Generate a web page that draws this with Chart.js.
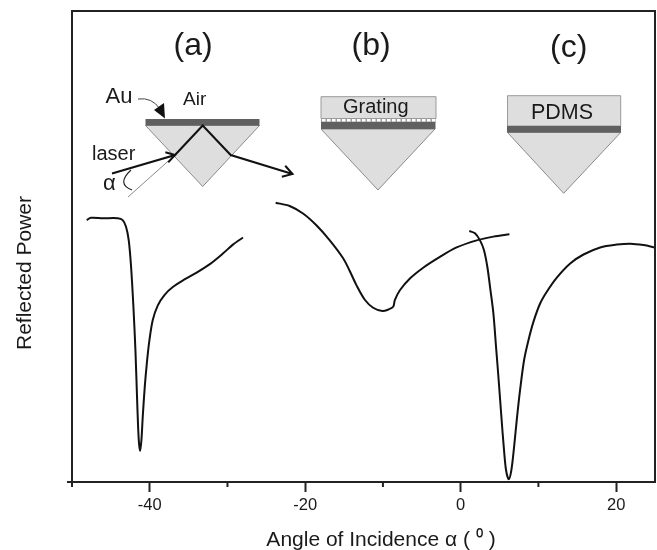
<!DOCTYPE html>
<html>
<head>
<meta charset="utf-8">
<style>
  html, body { margin: 0; padding: 0; background: #fff; }
  #wrap { width: 657px; height: 550px; }
</style>
<script src="https://cdn.jsdelivr.net/npm/chart.js@4"></script>
</head>
<body>
<div id="wrap"><canvas id="chart"></canvas></div>
<script>
const xTicks = [-40, -20, 0, 20];

const curveAx = [-48.11, -47.56, -46.05, -44.12, -43.48, -43.05, -42.70, -42.40, -42.10, -41.84, -41.59, -41.41, -41.24, -41.07, -40.90, -40.64, -40.38, -40.04, -39.61, -38.96, -38.11, -37.03, -35.53, -34.02, -32.31, -30.59, -29.30, -28.01];
const curveAy = [55.6, 56.1, 56.0, 56.0, 55.6, 54.2, 51.3, 45.7, 37.2, 28.0, 15.9, 8.9, 6.6, 8.9, 13.8, 20.2, 25.1, 30.1, 34.4, 37.5, 39.7, 41.4, 43.0, 44.4, 46.2, 48.5, 50.4, 51.9];

const curveBx = [-23.80, -22.00, -20.28, -18.56, -16.84, -15.12, -14.27, -13.41, -12.33, -11.26, -10.06, -9.33, -8.68, -8.47, -7.82, -6.53, -4.82, -2.67, -0.52, 2.06, 4.21, 6.27];
const curveBy = [59.3, 58.6, 57.0, 54.5, 51.3, 47.5, 44.8, 41.8, 38.7, 37.0, 36.3, 36.6, 37.2, 38.6, 40.7, 43.2, 45.5, 47.8, 49.8, 51.3, 52.1, 52.6];

const curveCx = [1.11, 1.84, 2.49, 3.00, 3.43, 3.78, 4.21, 4.55, 4.89, 5.24, 5.58, 5.84, 6.18, 6.52, 6.87, 7.21, 7.64, 8.16, 8.72, 9.36, 10.22, 11.08, 12.37, 14.09, 15.80, 17.95, 20.10, 21.82, 23.53, 25];
const curveCy = [53.3, 52.8, 51.3, 49.2, 45.7, 41.4, 35.8, 28.7, 21.6, 13.8, 6.7, 2.5, 0.6, 2.5, 7.4, 13.1, 19.5, 25.9, 30.1, 34.0, 37.9, 40.4, 43.4, 46.4, 48.3, 49.8, 50.4, 50.6, 50.3, 49.8];

const FONT = "'Liberation Sans', Arial, sans-serif";
const INK = "#1a1a1a";

function toPoints(xs, ys) { return xs.map((x, i) => ({ x, y: ys[i] })); }

function curve(label, xs, ys) {
  return {
    label,
    data: toPoints(xs, ys),
    borderColor: "#111",
    borderWidth: 2,
    pointRadius: 0,
    tension: 0.3,
    fill: false
  };
}

// marco superior/derecho y marcas menores, que Chart.js no hace solo
const framePlugin = {
  id: "frame",
  afterDraw(chart) {
    const { ctx, chartArea: a, scales } = chart;
    ctx.save();
    ctx.strokeStyle = "#222";
    ctx.lineWidth = 2;
    ctx.beginPath();
    ctx.moveTo(a.left, a.bottom); ctx.lineTo(a.left, a.top);
    ctx.lineTo(a.right, a.top); ctx.lineTo(a.right, a.bottom);
    ctx.stroke();
    [-50, -30, -10, 10].forEach(v => {
      const px = scales.x.getPixelForValue(v);
      ctx.beginPath(); ctx.moveTo(px, a.bottom); ctx.lineTo(px, a.bottom + 5); ctx.stroke();
    });
    ctx.beginPath(); ctx.moveTo(a.left - 5, a.bottom); ctx.lineTo(a.left, a.bottom); ctx.stroke();
    ctx.restore();
  }
};

function text(ctx, str, x, y, size) {
  ctx.font = size + "px " + FONT;
  ctx.fillStyle = INK;
  ctx.fillText(str, x, y);
}

function poly(ctx, pts, fill, stroke) {
  ctx.beginPath();
  pts.forEach((p, i) => i ? ctx.lineTo(p[0], p[1]) : ctx.moveTo(p[0], p[1]));
  ctx.closePath();
  if (fill) { ctx.fillStyle = fill; ctx.fill(); }
  if (stroke) { ctx.strokeStyle = stroke; ctx.lineWidth = 1; ctx.stroke(); }
}

function arrowHead(ctx, x, y, ang, len) {
  ctx.beginPath();
  ctx.moveTo(x - len * Math.cos(ang - 0.55), y - len * Math.sin(ang - 0.55));
  ctx.lineTo(x, y);
  ctx.lineTo(x - len * Math.cos(ang + 0.55), y - len * Math.sin(ang + 0.55));
  ctx.stroke();
}

// esquemas de los prismas y rótulos (a), (b), (c)
const insetPlugin = {
  id: "insets",
  afterDraw(chart) {
    const ctx = chart.ctx;
    ctx.save();
    ctx.textBaseline = "alphabetic";
    ctx.textAlign = "left";

    // prisma (a)
    poly(ctx, [[145.5, 125.5], [259.5, 125.5], [202.7, 186.5]], "#dedede", "#8a8a8a");
    ctx.fillStyle = "#606060";
    ctx.fillRect(145.5, 119, 114, 6.5);
    ctx.strokeStyle = "#8a8a8a"; ctx.lineWidth = 1;
    ctx.beginPath(); ctx.moveTo(128, 197); ctx.lineTo(175, 155); ctx.stroke();
    ctx.strokeStyle = "#111"; ctx.lineWidth = 2;
    ctx.beginPath();
    ctx.moveTo(112, 173.5); ctx.lineTo(175, 155); ctx.lineTo(202.7, 125.5);
    ctx.lineTo(230.7, 155); ctx.lineTo(292.5, 174);
    ctx.stroke();
    arrowHead(ctx, 175, 155, -0.28, 10);
    arrowHead(ctx, 292.5, 174, 0.3, 11);
    // flecha Au
    ctx.lineWidth = 1; ctx.strokeStyle = "#444";
    ctx.beginPath(); ctx.moveTo(138, 99); ctx.quadraticCurveTo(152, 97, 160, 109); ctx.stroke();
    poly(ctx, [[165, 118.5], [154, 110], [164, 103]], "#111");
    // arco alfa
    ctx.strokeStyle = "#222"; ctx.lineWidth = 1.2;
    ctx.beginPath(); ctx.moveTo(131, 170); ctx.quadraticCurveTo(116, 184, 132, 190); ctx.stroke();

    // prisma (b)
    poly(ctx, [[321, 96.7], [436, 96.7], [436, 118.5], [321, 118.5]], "#dedede", "#9a9a9a");
    poly(ctx, [[321, 129], [435, 129], [378, 190]], "#dedede", "#8a8a8a");
    ctx.fillStyle = "#606060";
    ctx.fillRect(321, 122, 114.5, 7);
    ctx.fillStyle = "#9c9c9c";
    ctx.fillRect(321, 118.5, 115, 3.5);
    ctx.fillStyle = "#fff";
    for (let i = 0; i < 23; i++) ctx.fillRect(322 + i * 5, 119, 3.5, 2.5);

    // prisma (c)
    poly(ctx, [[507.5, 95.7], [620.7, 95.7], [620.7, 126], [507.5, 126]], "#dedede", "#9a9a9a");
    poly(ctx, [[507.5, 132.5], [620.7, 132.5], [563.7, 193.3]], "#dedede", "#8a8a8a");
    ctx.fillStyle = "#606060";
    ctx.fillRect(507, 126, 114, 6.5);

    text(ctx, "(a)", 173.5, 55, 32);
    text(ctx, "(b)", 351.5, 55, 32);
    text(ctx, "(c)", 550, 57, 32);
    text(ctx, "Au", 105.5, 103, 22);
    text(ctx, "Air", 183, 105, 19);
    text(ctx, "laser", 92, 160, 20);
    text(ctx, "α", 103, 190, 22);
    text(ctx, "Grating", 343, 113, 20);
    text(ctx, "PDMS", 531, 119, 21.5);

    // títulos de ejes: en el original no están centrados sobre el eje
    ctx.textAlign = "center";
    text(ctx, "Angle of Incidence α ( ⁰ )", 381, 546, 21);
    ctx.translate(31, 273);
    ctx.rotate(-Math.PI / 2);
    text(ctx, "Reflected Power", 0, 0, 21);
    ctx.restore();
  }
};

new Chart(document.getElementById("chart"), {
  type: "line",
  data: {
    datasets: [
      curve("(a)", curveAx, curveAy),
      curve("(b)", curveBx, curveBy),
      curve("(c)", curveCx, curveCy)
    ]
  },
  options: {
    responsive: true,
    maintainAspectRatio: false,
    animation: false,
    layout: { padding: { top: 11, right: 2, left: 0, bottom: 0 } },
    plugins: { legend: { display: false }, tooltip: { enabled: false } },
    scales: {
      x: {
        type: "linear",
        min: -50,
        max: 25,
        afterBuildTicks: scale => { scale.ticks = xTicks.map(value => ({ value })); },
        afterFit: scale => { scale.height = 68; },
        border: { display: true, color: "#222", width: 2 },
        grid: { drawOnChartArea: false, tickLength: 10, tickColor: "#222", tickWidth: 2 },
        ticks: {
          color: INK, font: { family: FONT, size: 16.5 }, padding: 4, maxRotation: 0,
          callback: v => String(v)
        }
      },
      y: {
        min: 0,
        max: 100,
        afterFit: scale => { scale.width = 72; },
        border: { display: false },
        grid: { display: false },
        ticks: { display: false }
      }
    }
  },
  plugins: [framePlugin, insetPlugin]
});
</script>
</body>
</html>
